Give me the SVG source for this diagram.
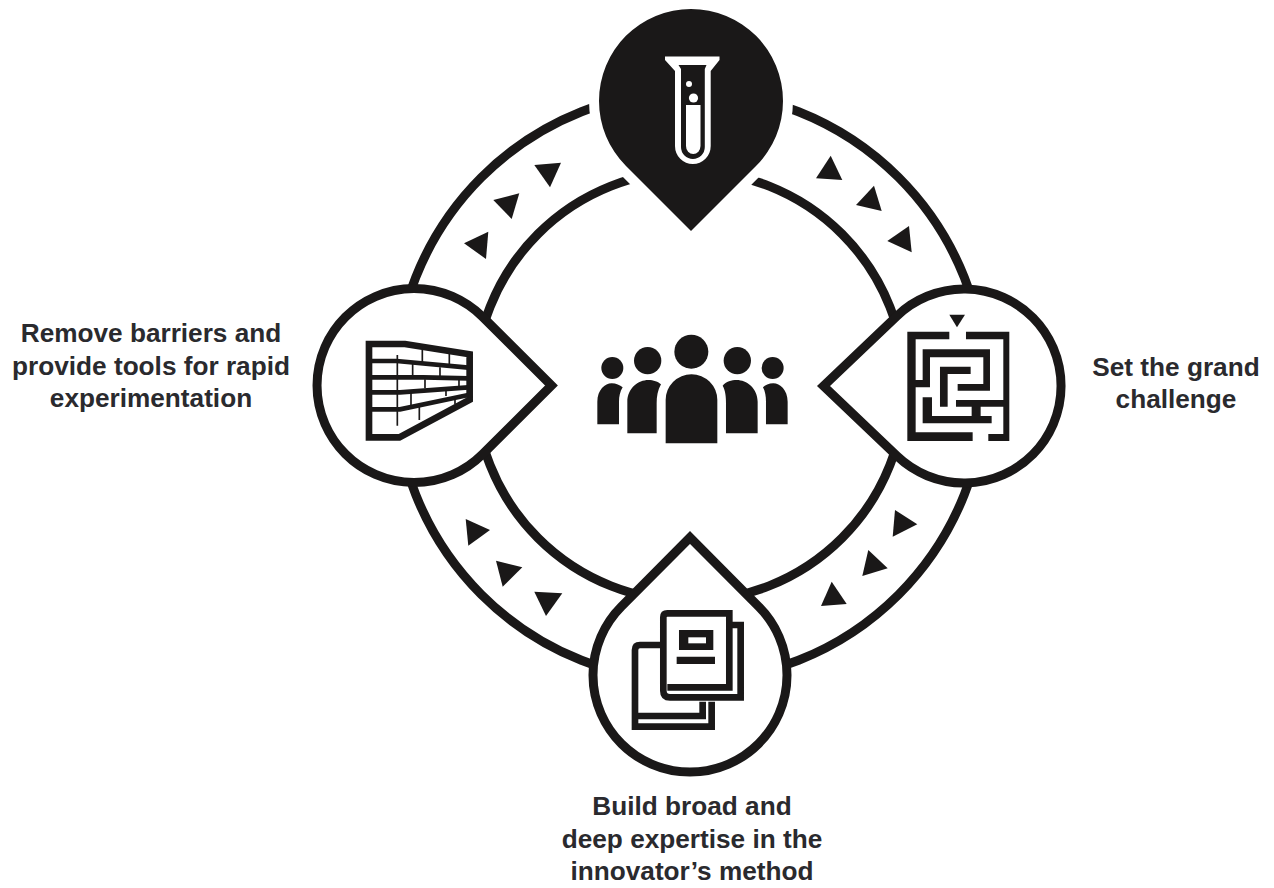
<svg xmlns="http://www.w3.org/2000/svg" width="1274" height="888" viewBox="0 0 1274 888">
<style>
.ring{fill:none;stroke:#1a1818;stroke-width:9}
.drop{fill:#fff;stroke:#1a1818;stroke-width:9;stroke-linejoin:miter}
.k{fill:#1a1818}
.w{fill:#fff}
.tri{fill:#1a1818}
.ln{fill:none;stroke:#1a1818}
text{font-family:"Liberation Sans",Arial,sans-serif;font-weight:700;font-size:26.2px;fill:#2a2a2e;text-anchor:middle}
</style>
<rect width="1274" height="888" fill="#fff"/>
<g id="connectors">
<circle class="ring" cx="690" cy="386" r="295"/>
<circle class="ring" cx="690" cy="386" r="215"/>
<polygon class="tri" points="830.7,155.7 816,178.3 842.3,180"/>
<polygon class="tri" points="874,185.7 856,205 881.7,211"/>
<polygon class="tri" points="909,226 887.3,241 911.7,252.3"/>
<polygon class="tri" points="534.3,165 561,162.7 550,187.3"/>
<polygon class="tri" points="493.3,200 519.3,193.3 511.7,219"/>
<polygon class="tri" points="464,243.3 488.3,231.7 486,259"/>
<polygon class="tri" points="465.7,519 490,530 468.3,545.7"/>
<polygon class="tri" points="496,560.7 522.3,567.3 502.7,586.7"/>
<polygon class="tri" points="534.3,591.7 562.3,593.3 546,616"/>
<polygon class="tri" points="895,510 917.3,524.3 892.7,536.7"/>
<polygon class="tri" points="868.3,550 887.7,568.3 862.3,576"/>
<polygon class="tri" points="831.7,581.7 846.7,604 821,606"/>
</g>
<g id="node-top">
<path d="M691 231 L626 166 A92 92 0 1 1 756 166 Z" fill="#1a1818" stroke="#fff" stroke-width="20" paint-order="stroke"/>
<path class="w" d="M665 56.5 H719.5 V60 L710.7 71 V146 A17.8 18 0 0 1 675 146 V71 L665 60 Z"/>
<path class="k" d="M678.5 65 H706.5 L704.8 69 V147 A11.9 11.9 0 0 1 681 147 V69 Z"/>
<path class="w" d="M686 105 H700.5 V146 A7.2 8 0 0 1 686 146 Z"/>
<circle class="w" cx="689" cy="84" r="3"/>
<circle class="w" cx="693.5" cy="98" r="4.6"/>
</g>
<g id="node-right">
<path class="drop" d="M823.5 386 L897 315.9 A97 97 0 1 1 897 456.1 Z"/>
<g transform="translate(810 280) scale(0.3333)">
<polygon class="k" points="418,104 465,104 441,142"/>
<path class="k" d="M292 155H418V178H317V300H338V208H540V332H443V312H520V232H360V322H317V457H488V483H292Z"/>
<path class="k" d="M468 155H598V483H535V462H580V380H512V408H545V430H338V352H366V408H485V380H438V360H580V178H468Z"/>
<path class="k" d="M390 260H482V282H413V380H390Z"/>
</g>
<text x="1176" y="376">Set the grand</text>
<text x="1176" y="408">challenge</text>
</g>
<g id="node-left">
<path class="drop" d="M551.5 385.5 L482.5 316.8 A97 97 0 1 0 482.5 454.2 Z"/>
<g transform="translate(300 280) scale(0.3333)">
<path d="M207 192H315L509 223V359L298 472H207Z" fill="#fff" stroke="#1a1818" stroke-width="20"/>
<path class="ln" stroke-width="14" d="M215 243H290L505 263M215 292H370L505 295M215 337H300L505 322M215 388H300L505 345"/>
<path class="ln" stroke-width="5" d="M292 225V437M367 210V248M448 222V255M338 252V285M420 262V288M375 298V325M477 298V318M333 338V378M438 328V348M358 378V420M465 350V372"/>
</g>
<text x="151" y="342">Remove barriers and</text>
<text x="151" y="375">provide tools for rapid</text>
<text x="151" y="407">experimentation</text>
</g>
<g id="node-bottom">
<path class="drop" d="M690 537.5 L758.7 606.6 A97 97 0 1 1 621.3 606.6 Z"/>
<g transform="translate(580 530) scale(0.3333)">
<path class="ln" stroke-width="20" d="M240 345H180Q165 345 165 360V590H395V515M175 558H368V515"/>
<path class="ln" stroke-width="20" d="M458 285H482V502H270Q250 502 250 482V262Q250 250 262 250H448V472H262"/>
<path class="k" d="M297 300H400V360H297ZM290 380H405V402H290Z"/>
<rect class="w" x="325" y="322" width="53" height="18"/>
</g>
<text x="692" y="815">Build broad and</text>
<text x="692" y="848">deep expertise in the</text>
<text x="692" y="880">innovator’s method</text>
</g>
<g id="node-center">
<g transform="translate(590 330) scale(0.3333)" class="k">
<circle cx="304" cy="65" r="51"/>
<circle cx="173" cy="92" r="41"/>
<circle cx="442" cy="92" r="41"/>
<circle cx="67" cy="114" r="33"/>
<circle cx="548" cy="114" r="33"/>
<path d="M227 340V210A77 77 0 0 1 382 210V340Z"/>
<path d="M112 310V215C112 175 145 150 175 150C190 150 205 155 213 163C203 180 200 200 200 220V310Z"/>
<path d="M22 283V215C22 180 45 160 65 160C78 160 90 165 98 172C90 185 87 200 87 215V283Z"/>
<path d="M503 310V215C503 175 470 150 440 150C425 150 408 155 398 167C406 180 408 200 408 220V310Z"/>
<path d="M593 283V215C593 180 570 160 550 160C537 160 525 165 519 172C526 185 528 200 528 215V283Z"/>
</g>
</g>
</svg>
